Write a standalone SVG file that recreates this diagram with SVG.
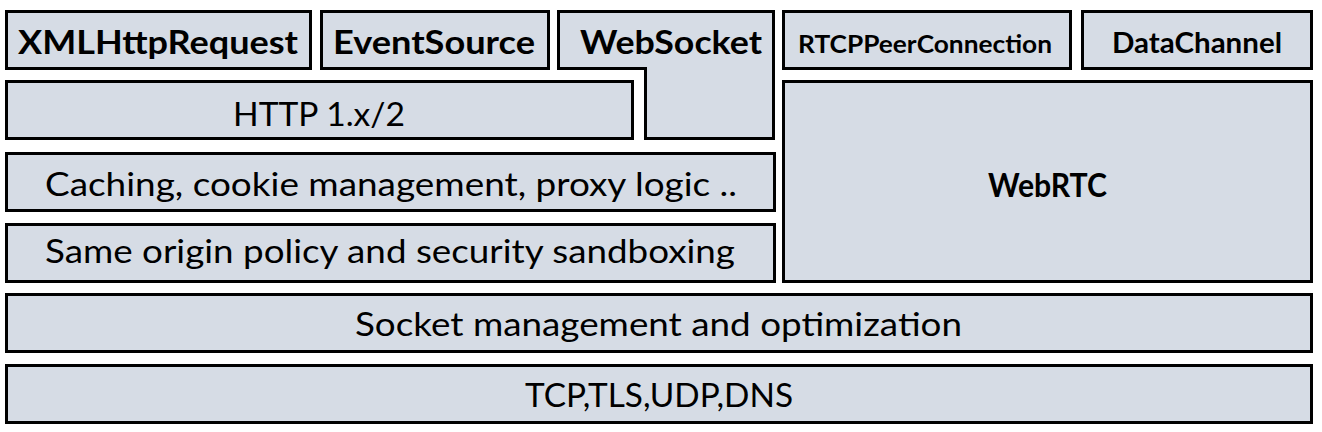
<svg xmlns="http://www.w3.org/2000/svg" width="1322" height="432" viewBox="0 0 1322 432">
<style>
.box{fill:#d6dce5;stroke:#000;stroke-width:3}
.t{font-family:Lato,"Open Sans","Liberation Sans",sans-serif;fill:#000;text-anchor:middle}
.r{font-size:33px}
.b{font-weight:bold;font-size:32px}
</style>
<rect width="1322" height="432" fill="#fff"/>
<g id="xmlhttprequest"><rect class="box" x="6.5" y="11.5" width="304" height="57"/><text class="t b" x="158" y="54" textLength="280" lengthAdjust="spacingAndGlyphs">XMLHttpRequest</text></g>
<g id="eventsource"><rect class="box" x="321.5" y="11.5" width="227" height="57"/><text class="t b" x="434" y="54" textLength="202" lengthAdjust="spacingAndGlyphs">EventSource</text></g>
<g id="websocket"><path class="box" d="M558.5,11.5 H773.5 V138.5 H645.5 V68.5 H558.5 Z"/><text class="t b" x="671" y="54" textLength="182" lengthAdjust="spacingAndGlyphs">WebSocket</text></g>
<g id="rtcppeerconnection"><rect class="box" x="783.5" y="11.5" width="287" height="57"/><text class="t" x="925" y="53" font-weight="bold" font-size="25" textLength="254" lengthAdjust="spacingAndGlyphs">RTCPPeerConnection</text></g>
<g id="datachannel"><rect class="box" x="1082.5" y="11.5" width="229" height="57"/><text class="t" x="1197" y="53" font-weight="bold" font-size="29" textLength="170" lengthAdjust="spacingAndGlyphs">DataChannel</text></g>
<g id="http"><rect class="box" x="6.5" y="81.5" width="626" height="57"/><text class="t r" x="319" y="126" textLength="172" lengthAdjust="spacingAndGlyphs">HTTP 1.x/2</text></g>
<g id="webrtc"><rect class="box" x="783.5" y="81.5" width="528" height="200"/><text class="t b" x="1047.5" y="197" textLength="119" lengthAdjust="spacingAndGlyphs">WebRTC</text></g>
<g id="caching"><rect class="box" x="6.5" y="153.5" width="768" height="57"/><text class="t r" x="391" y="196" textLength="692" lengthAdjust="spacingAndGlyphs">Caching, cookie management, proxy logic ..</text></g>
<g id="sameorigin"><rect class="box" x="6.5" y="224.5" width="768" height="57"/><text class="t r" x="390" y="263" textLength="690" lengthAdjust="spacingAndGlyphs">Same origin policy and security sandboxing</text></g>
<g id="socket"><rect class="box" x="6.5" y="294.5" width="1305" height="57"/><text class="t r" x="658.5" y="336" textLength="607" lengthAdjust="spacingAndGlyphs">Socket management and optimization</text></g>
<g id="tcp"><rect class="box" x="6.5" y="365.5" width="1305" height="57"/><text class="t r" x="659" y="407" textLength="268" lengthAdjust="spacingAndGlyphs">TCP,TLS,UDP,DNS</text></g>
<g id="connectors"/>
</svg>
